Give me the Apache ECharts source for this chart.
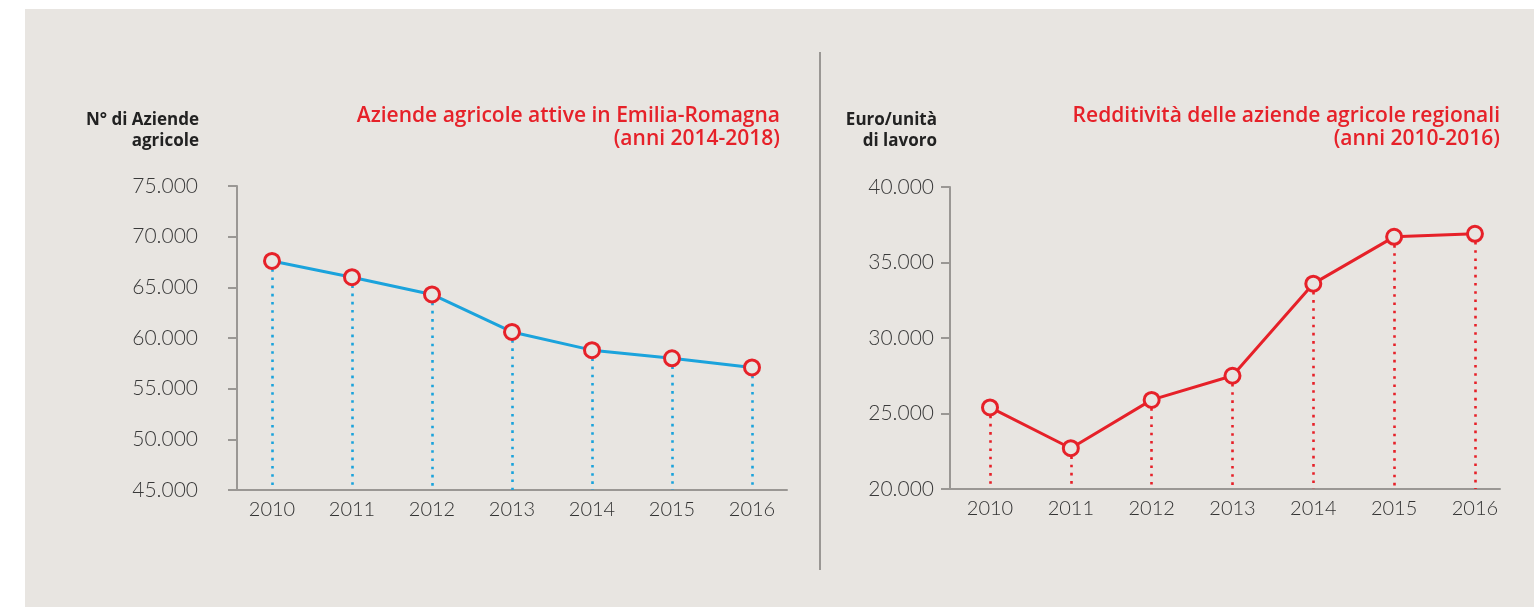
<!DOCTYPE html>
<html>
<head>
<meta charset="utf-8">
<script src="https://cdn.jsdelivr.net/npm/echarts@6/dist/echarts.min.js"></script>
<style>html,body{margin:0;padding:0;background:#fff}#c{width:1537px;height:607px}</style>
</head>
<body>
<div id="c"></div>
<script>
// ---- data ----
const years = [2010, 2011, 2012, 2013, 2014, 2015, 2016];
const aziende = [67600, 66000, 64300, 60600, 58800, 58000, 57100];
const redditivita = [25400, 22700, 25900, 27500, 33600, 36700, 36900];
const leftTitle = 'Aziende agricole attive in Emilia-Romagna\n(anni 2014-2018)';
const rightTitle = 'Redditività delle aziende agricole regionali\n(anni 2010-2016)';
const leftAxisName = 'N° di Aziende\nagricole';
const rightAxisName = 'Euro/unità\ndi lavoro';
const leftYTicks = {min: 45000, max: 75000, interval: 5000};
const rightYTicks = {min: 20000, max: 40000, interval: 5000};

// ---- style ----
const BG = '#e8e5e1';
const RED = '#e62129';
const BLUE = '#1ba3dc';
const AXIS = '#9a9794';
const FONT = 'Lato, "Open Sans", sans-serif';
const TFONT = '"Open Sans", Lato, sans-serif';

const fmt = v => String(Math.round(v)).replace(/\B(?=(\d{3})+(?!\d))/g, '.');

function dropLines(vals, yMin) {
  return years.map((y, i) => [{coord: [y, vals[i]]}, {coord: [y, yMin]}]);
}

function yAxis(gi, t, margin) {
  return {
    type: 'value', gridIndex: gi, min: t.min, max: t.max, interval: t.interval,
    splitLine: {show: false},
    axisLine: {show: true, lineStyle: {color: AXIS, width: 2}},
    axisTick: {show: true, length: 9, lineStyle: {color: AXIS, width: 2}},
    axisLabel: {margin: margin, formatter: fmt, color: '#3a3a3a', fontSize: 21, fontFamily: FONT, fontWeight: 300}
  };
}
function xAxis(gi, min, max) {
  return {
    type: 'value', gridIndex: gi, min: min, max: max,
    splitLine: {show: false},
    axisLine: {show: true, onZero: false, lineStyle: {color: AXIS, width: 2}},
    axisTick: {show: false},
    axisLabel: {customValues: years, formatter: v => String(v), margin: 10, color: '#333', fontSize: 20, fontFamily: FONT, fontWeight: 300, showMinLabel: true, showMaxLabel: true}
  };
}
function lineSeries(idx, vals, color, yMin) {
  return {
    type: 'line', xAxisIndex: idx, yAxisIndex: idx, z: 3,
    data: years.map((y, i) => [y, vals[i]]),
    symbol: 'circle', symbolSize: 15, showSymbol: true,
    lineStyle: {color: color, width: 3},
    itemStyle: {color: BG, borderColor: RED, borderWidth: 3},
    markLine: {
      silent: true, symbol: 'none', z: 1, animation: false,
      label: {show: false},
      lineStyle: {color: color, width: 2.6, type: [2.6, 5.6], cap: 'butt'},
      data: dropLines(vals, yMin)
    }
  };
}

const chart = echarts.init(document.getElementById('c'));
chart.setOption({
  backgroundColor: '#fff',
  animation: false,
  grid: [
    {left: 237, top: 186, width: 550, height: 304},
    {left: 950, top: 187, width: 550, height: 302}
  ],
  xAxis: [xAxis(0, 2009.5625, 2016.4375), xAxis(1, 2009.505, 2016.31)],
  yAxis: [yAxis(0, leftYTicks, 39), yAxis(1, rightYTicks, 16)],
  series: [
    lineSeries(0, aziende, BLUE, leftYTicks.min),
    lineSeries(1, redditivita, RED, rightYTicks.min)
  ],
  graphic: [
    {type: 'rect', z: -10, shape: {x: 25, y: 9, width: 1509, height: 598}, style: {fill: BG}},
    {type: 'line', z: -5, shape: {x1: 820, y1: 52, x2: 820, y2: 570}, style: {stroke: AXIS, lineWidth: 2}},
    {type: 'text', x: 199, y: 110, style: {text: leftAxisName, align: 'right', verticalAlign: 'top', fill: '#222', font: 'bold 17px ' + TFONT, lineHeight: 21}},
    {type: 'text', x: 937, y: 110, style: {text: rightAxisName, align: 'right', verticalAlign: 'top', fill: '#222', font: 'bold 17px ' + TFONT, lineHeight: 21}},
    {type: 'text', x: 780, y: 105, style: {text: leftTitle, align: 'right', verticalAlign: 'top', fill: RED, font: '600 21px ' + TFONT, lineHeight: 23}},
    {type: 'text', x: 1500, y: 105, style: {text: rightTitle, align: 'right', verticalAlign: 'top', fill: RED, font: '600 21px ' + TFONT, lineHeight: 23}}
  ]
});
</script>
</body>
</html>
